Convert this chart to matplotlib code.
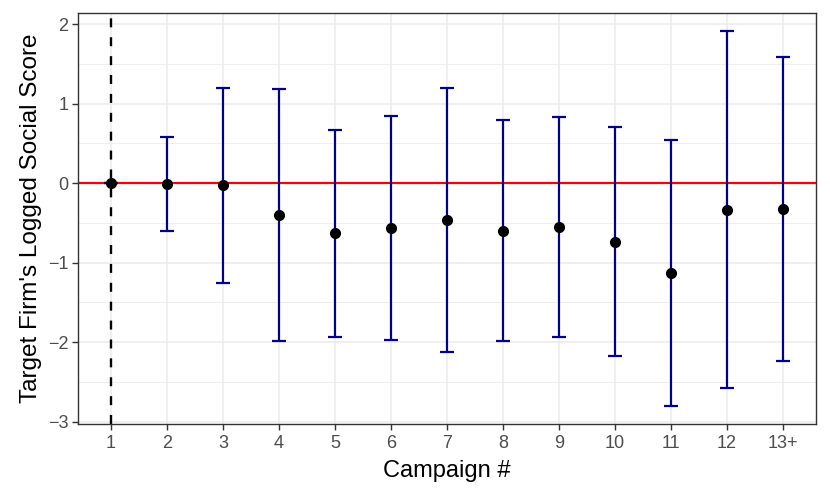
import matplotlib
matplotlib.use("Agg")
import matplotlib.pyplot as plt
import numpy as np
from matplotlib.ticker import MultipleLocator

plt.rcParams['font.family'] = ['Liberation Sans', 'DejaVu Sans']

campaigns = ["1", "2", "3", "4", "5", "6", "7", "8", "9", "10", "11", "12", "13+"]
estimate = [0.0, -0.01, -0.025, -0.40, -0.63, -0.56, -0.46, -0.60, -0.55, -0.74, -1.13, -0.335, -0.33]
upper = [0.0, 0.58, 1.20, 1.18, 0.67, 0.85, 1.20, 0.79, 0.83, 0.70, 0.545, 1.91, 1.59]
lower = [0.0, -0.60, -1.26, -1.99, -1.93, -1.97, -2.13, -1.99, -1.93, -2.18, -2.80, -2.58, -2.24]

x = np.arange(1, len(campaigns) + 1)
est = np.array(estimate)
err = np.vstack([est - np.array(lower), np.array(upper) - est])

fig = plt.figure(figsize=(8.3, 4.98), dpi=100)
ax = fig.add_axes([78 / 830, 1 - 424 / 498, (816 - 78) / 830, (424 - 13) / 498])

ax.set_xlim(0.41, 13.59)
ax.set_ylim(-3.03, 2.14)
ax.yaxis.set_major_locator(MultipleLocator(1))
ax.yaxis.set_minor_locator(MultipleLocator(0.5))
ax.set_xticks(x)
ax.set_xticklabels(campaigns)

ax.grid(True, which='major', color='#EBEBEB', linewidth=1.1)
ax.grid(True, which='minor', axis='y', color='#EBEBEB', linewidth=0.6)
ax.set_axisbelow(True)

ax.axhline(0, color='#FF0000', linewidth=1.6, zorder=2)
ax.axvline(1, color='black', linestyle=(0, (3.8, 4.2)), linewidth=1.7, zorder=2)

ax.errorbar(x, est, yerr=err, fmt='none', ecolor='#00008B', elinewidth=1.6,
            capsize=5, capthick=1.6, zorder=3)
ax.plot(x, est, 'o', color='black', markersize=7, zorder=4)

for s in ax.spines.values():
    s.set_color('#333333')
    s.set_linewidth(1.0)

ax.tick_params(axis='both', which='major', colors='#333333', labelcolor='#4D4D4D',
               labelsize=13, length=4, width=1.0)
ax.tick_params(axis='x', which='major', pad=4)
ax.tick_params(axis='y', which='major', pad=3)
ax.tick_params(axis='y', which='minor', length=0)

ax.set_xlabel("Campaign #", fontsize=17, labelpad=6)
ax.set_ylabel("Target Firm's Logged Social Score", fontsize=17.5, labelpad=4)

fig.savefig("out.png", dpi=100)
